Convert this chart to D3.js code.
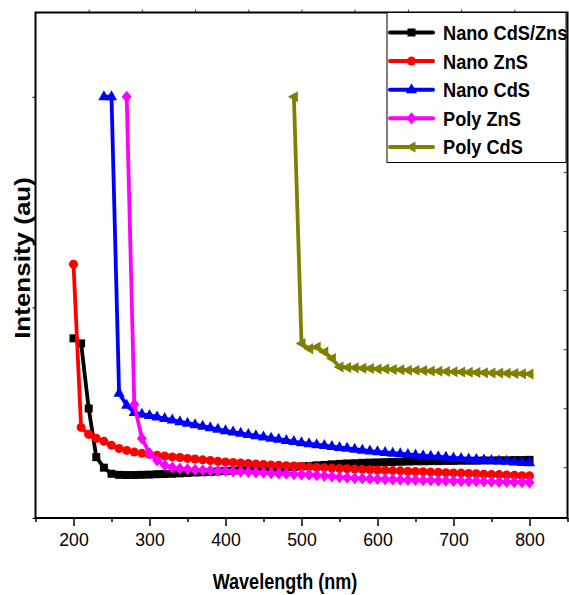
<!DOCTYPE html>
<html><head><meta charset="utf-8">
<script src="https://cdn.jsdelivr.net/npm/d3@7"></script>
<style>body{margin:0;background:#fff}svg{display:block}</style>
</head><body><svg id="c" width="569" height="595"></svg>
<script>
const wavelengths = [200,210,220,230,240,250,260,270,280,290,300,310,320,330,340,350,360,370,380,390,400,410,420,430,440,450,460,470,480,490,500,510,520,530,540,550,560,570,580,590,600,610,620,630,640,650,660,670,680,690,700,710,720,730,740,750,760,770,780,790,800];
const nanoCdSZnS = [8.53,8.29,5.20,2.89,2.39,2.10,2.05,2.04,2.04,2.05,2.06,2.08,2.09,2.10,2.12,2.14,2.16,2.17,2.19,2.21,2.23,2.25,2.27,2.29,2.31,2.33,2.35,2.37,2.40,2.42,2.45,2.47,2.50,2.52,2.55,2.57,2.59,2.60,2.62,2.63,2.64,2.65,2.66,2.67,2.68,2.69,2.69,2.70,2.70,2.71,2.71,2.72,2.72,2.72,2.73,2.73,2.74,2.74,2.75,2.75,2.76];
const nanoZnS = [12.05,4.30,3.97,3.78,3.64,3.45,3.30,3.21,3.13,3.07,3.02,2.98,2.94,2.90,2.87,2.83,2.80,2.76,2.73,2.69,2.66,2.64,2.61,2.59,2.56,2.54,2.52,2.50,2.48,2.47,2.45,2.43,2.41,2.39,2.37,2.35,2.34,2.32,2.31,2.29,2.28,2.27,2.25,2.24,2.22,2.21,2.20,2.18,2.17,2.15,2.14,2.13,2.11,2.10,2.08,2.07,2.06,2.04,2.03,2.01,2.00];
const nanoCdS = [null,null,null,null,20.0,20.0,5.92,5.35,5.01,4.92,4.87,4.80,4.72,4.65,4.57,4.50,4.43,4.36,4.28,4.21,4.14,4.08,4.02,3.96,3.91,3.85,3.79,3.74,3.68,3.63,3.57,3.53,3.48,3.44,3.39,3.35,3.31,3.27,3.22,3.18,3.14,3.11,3.08,3.05,3.02,2.99,2.96,2.93,2.91,2.88,2.85,2.83,2.80,2.78,2.75,2.73,2.71,2.69,2.66,2.64,2.62];
const polyZnS = [null,null,null,null,null,null,null,20.0,5.39,3.78,3.07,2.73,2.50,2.40,2.35,2.31,2.29,2.27,2.25,2.24,2.23,2.21,2.20,2.18,2.16,2.15,2.13,2.11,2.10,2.08,2.07,2.05,2.03,2.00,1.97,1.94,1.91,1.89,1.88,1.86,1.85,1.84,1.83,1.82,1.81,1.80,1.79,1.78,1.77,1.77,1.76,1.75,1.74,1.74,1.73,1.72,1.71,1.71,1.70,1.70,1.69];
const polyCdS = [null,null,null,null,null,null,null,null,null,null,null,null,null,null,null,null,null,null,null,null,null,null,null,null,null,null,null,null,null,20.0,8.28,8.04,8.12,7.88,7.57,7.17,7.15,7.13,7.11,7.10,7.08,7.07,7.05,7.04,7.02,7.01,7.00,6.98,6.97,6.95,6.94,6.93,6.92,6.91,6.90,6.89,6.88,6.87,6.86,6.85,6.84];
const seriesNames = ["Nano CdS/Zns","Nano ZnS","Nano CdS","Poly ZnS","Poly CdS"];
const seriesColors = ["#000000","#ff0000","#0000ff","#ff00ff","#808000"];
const xMajorTicks = [200,300,400,500,600,700,800];
const xMinorTicks = [150,250,350,450,550,650,750,850];
const yTicks = [0,10,20];
const topTicks = [1,2,3,4,5,6,7,8,9];
const rightTicks = [0.86,1.86,2.86,3.86,4.86,5.86,6.86,7.86];

const seriesValues = [nanoCdSZnS, nanoZnS, nanoCdS, polyZnS, polyCdS];
const markerShapes = [
  "M-4,-4L4,-4L4,4L-4,4Z",
  d3.symbol(d3.symbolCircle, 64)(),
  "M0,-6.5L5.6,3.5L-5.6,3.5Z",
  "M0,-6L5,0L0,6L-5,0Z",
  "M-6,0L4,-5.5L4,5.5Z"
];

const svg = d3.select("#c");
const L = 35.5, R = 567.5, T = 12.5, B = 518;
const SX = 0.82;
const x = d3.scaleLinear().domain([150, 850]).range([L, R]);
const y = d3.scaleLinear().domain([0, 24]).range([B, T]);
const xTop = d3.scaleLinear().domain([0, 10]).range([L, R]);
const yRight = d3.scaleLinear().domain([0, 8.56]).range([B, T]);
const font = "'Liberation Sans',Arial,sans-serif";

const plot = svg.append("g");
const line = d3.line().x(d => x(d[0])).y(d => y(d[1]));
seriesValues.forEach((vals, i) => {
  const pts = wavelengths.map((w, j) => [w, vals[j]]).filter(d => d[1] != null);
  const g = plot.append("g");
  g.append("path").datum(pts).attr("d", line).attr("fill", "none")
    .attr("stroke", seriesColors[i]).attr("stroke-width", 3.8).attr("stroke-linejoin", "round");
  g.selectAll("path.m").data(pts).join("path").attr("class", "m")
    .attr("d", markerShapes[i]).attr("fill", seriesColors[i])
    .attr("transform", d => `translate(${x(d[0])},${y(d[1])})`);
});

// axes
const axB = svg.append("g").attr("transform", `translate(0,${B})`)
  .call(d3.axisBottom(x).tickValues(xMajorTicks).tickSize(8).tickPadding(7).tickFormat(d3.format("d")));
axB.select(".domain").remove();
axB.selectAll("line").attr("stroke-width", 1.5);
axB.selectAll("text").attr("font-family", font).attr("font-size", 19).attr("fill", "#000")
  .attr("transform", "scale(0.93,1)");
const axBm = svg.append("g").attr("transform", `translate(0,${B})`)
  .call(d3.axisBottom(x).tickValues(xMinorTicks).tickSize(4).tickFormat(""));
axBm.select(".domain").remove();
axBm.selectAll("line").attr("stroke-width", 1.5);
const axL = svg.append("g").attr("transform", `translate(${L},0)`)
  .call(d3.axisLeft(y).tickValues(yTicks).tickSize(3).tickFormat(""));
axL.select(".domain").remove();
const axT = svg.append("g").attr("transform", `translate(0,${T})`)
  .call(d3.axisTop(xTop).tickValues(topTicks).tickSize(3).tickFormat(""));
axT.select(".domain").remove();
axT.selectAll("line").attr("stroke", "#444");
const axR = svg.append("g").attr("transform", `translate(${R},0)`)
  .call(d3.axisLeft(yRight).tickValues(rightTicks).tickSize(4).tickFormat(""));
axR.select(".domain").remove();
axR.selectAll("line").attr("stroke", "#444");

svg.append("rect").attr("x", L).attr("y", T).attr("width", R - L).attr("height", B - T)
  .attr("fill", "none").attr("stroke", "#000").attr("stroke-width", 2);

// titles
svg.append("text").attr("transform", `translate(285,589) scale(${SX},1)`).attr("text-anchor", "middle")
  .attr("font-family", font).attr("font-weight", "bold").attr("font-size", 22).text("Wavelength (nm)");
svg.append("text").attr("transform", `translate(29.5,258) rotate(-90) scale(1,${SX})`).attr("text-anchor", "middle")
  .attr("font-family", font).attr("font-weight", "bold").attr("font-size", 26).text("Intensity (au)");

// legend
const lg = svg.append("g");
lg.append("rect").attr("x", 387).attr("y", 12.5).attr("width", 179).attr("height", 150)
  .attr("fill", "#fff").attr("stroke", "#000").attr("stroke-width", 1);
seriesNames.forEach((n, i) => {
  const cy = 32.5 + i * 28.6;
  lg.append("line").attr("x1", 390).attr("x2", 433).attr("y1", cy).attr("y2", cy)
    .attr("stroke", seriesColors[i]).attr("stroke-width", 4).attr("stroke-linecap", "round");
  lg.append("path").attr("d", markerShapes[i]).attr("fill", seriesColors[i])
    .attr("transform", `translate(411.5,${cy})`);
  lg.append("text").attr("transform", `translate(443,${cy + 7.5}) scale(0.91,1)`).attr("font-family", font)
    .attr("font-weight", "bold").attr("font-size", 20).text(n);
});
</script></body></html>
